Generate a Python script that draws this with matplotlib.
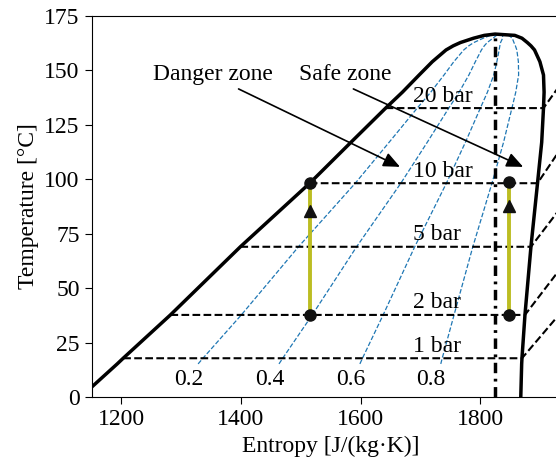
import numpy as np
import matplotlib
matplotlib.use("Agg")
import matplotlib.pyplot as plt

plt.rcParams['font.family'] = ['Liberation Serif', 'DejaVu Serif']
plt.rcParams['font.size'] = 17

# saturation dome: temperature, liquid and vapour entropy
T_sat = [0, 15.2, 17.8, 37.7, 69.0, 98.2, 117, 132.7, 140, 147.9, 154, 159.4, 161.3, 162.8, 164.8, 166.1, 166.7]
s_liq = [1132, 1193, 1203, 1282, 1399, 1515, 1584, 1642, 1670, 1698, 1720, 1743, 1755, 1767, 1789, 1807, 1825]
s_vap = [1868, 1869.5, 1870, 1875, 1885, 1896, 1903, 1906, 1907, 1906, 1900, 1891, 1885, 1879, 1870, 1858, 1825]

# isobars
p_labels = ['1 bar', '2 bar', '5 bar', '10 bar', '20 bar']
T_p = [17.8, 37.7, 69.0, 98.2, 132.7]
s_p_liq = [1203, 1282, 1399, 1515, 1642]
s_p_vap = [1870, 1875, 1885, 1896, 1906]
s_p_end = [1950, 1950, 1950, 1950, 1950]
T_p_end = [43.6, 64.6, 92.4, 120.2, 149.6]

# vapour quality lines
qualities = [0.2, 0.4, 0.6, 0.8]
q_labels = ['0.2', '0.4', '0.6', '0.8']

# critical entropy line
s_crit = 1825
T_crit = 166.7

# the two compression paths (bottom dot, top dot, arrow)
path_s = [1515, 1849]
path_T_low = [37.7, 37.7]
path_T_high = [98.2, 98.6]
path_T_arrow = [85.5, 87.5]

fig = plt.figure(figsize=(5.56, 4.61), dpi=100)
ax = fig.add_axes([91.5 / 556, 64 / 461, (569.8 - 91.5) / 556, 381 / 461])

T = np.array(T_sat)
sl = np.array(s_liq)
sv = np.array(s_vap)

# quality lines from the lever rule
mask = T >= 15.2
for q, lab in zip(qualities, q_labels):
    sq = sl + q * (sv - sl)
    ax.plot(sq[mask], T[mask], '--', color='#1f77b4', lw=0.9, zorder=2)
    ax.text(sq[mask][0] - 16, 5.5, lab, ha='center', va='baseline', fontsize=17)

# isobars
for lab, tp, a, b, se, te in zip(p_labels, T_p, s_p_liq, s_p_vap, s_p_end, T_p_end):
    ax.plot([a, b, se], [tp, tp, te], '--', color='k', lw=1.5, zorder=3)
    ax.text(1688, tp + 3, lab, ha='left', va='baseline', fontsize=17)

# critical entropy
ax.plot([s_crit, s_crit], [0, T_crit], color='k', lw=2.5,
        linestyle=(0, (3.0, 1.6, 0.8, 1.6)), zorder=3)

# saturation dome
ax.plot(np.concatenate([sl, sv[::-1][1:]]), np.concatenate([T, T[::-1][1:]]),
        color='k', lw=2.5, zorder=4)

# compression paths
for s, lo, hi, mid in zip(path_s, path_T_low, path_T_high, path_T_arrow):
    ax.plot([s, s], [lo, hi], color='#bcbd22', lw=2.8, zorder=5)
    ax.plot([s, s], [lo, hi], 'o', color='#111111', ms=8, zorder=6)
    ax.plot([s], [mid], '^', color='#111111', ms=8, zorder=6)

# zone annotations
ax.text(1353, 145.6, 'Danger zone', ha='center', va='baseline', fontsize=17)
ax.text(1574, 145.6, 'Safe zone', ha='center', va='baseline', fontsize=17)
arrow = dict(arrowstyle='-|>,head_length=0.5,head_width=0.22', color='k', lw=1.2,
             mutation_scale=20, shrinkA=0, shrinkB=0)
ax.annotate('', xy=(1666, 105.7), xytext=(1396, 141.5), arrowprops=arrow)
ax.annotate('', xy=(1872, 105.7), xytext=(1588, 141.5), arrowprops=arrow)

ax.set_xlim(1150, 1950)
ax.set_ylim(0, 175)
ax.set_xticks([1200, 1400, 1600, 1800])
ax.set_yticks(np.arange(0, 176, 25))
ax.set_xlabel('Entropy [J/(kg·K)]', fontsize=17)
ax.set_ylabel('Temperature [°C]', fontsize=17)
ax.tick_params(labelsize=17, length=5)

fig.savefig('out.png', dpi=100)
